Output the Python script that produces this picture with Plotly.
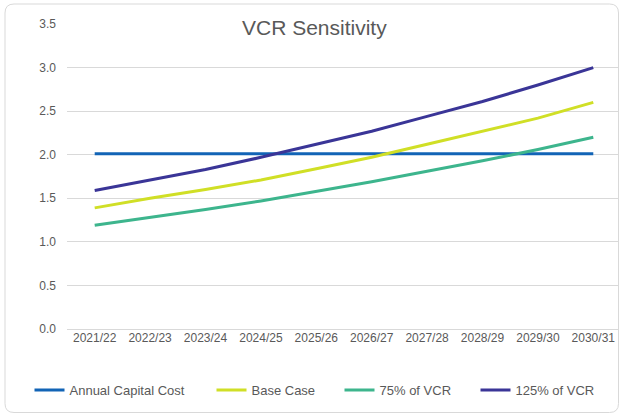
import plotly.graph_objects as go

years = ["2021/22", "2022/23", "2023/24", "2024/25", "2025/26",
         "2026/27", "2027/28", "2028/29", "2029/30", "2030/31"]
annual_capital_cost = [2.01, 2.01, 2.01, 2.01, 2.01, 2.01, 2.01, 2.01, 2.01, 2.01]
base_case = [1.39, 1.50, 1.60, 1.71, 1.84, 1.97, 2.12, 2.27, 2.42, 2.60]
vcr_75 = [1.19, 1.28, 1.37, 1.47, 1.58, 1.69, 1.81, 1.93, 2.06, 2.20]
vcr_125 = [1.59, 1.71, 1.83, 1.97, 2.12, 2.27, 2.44, 2.61, 2.80, 3.00]

series = [
    ("Annual Capital Cost", annual_capital_cost, "#1264B6"),
    ("Base Case", base_case, "#D0DF26"),
    ("75% of VCR", vcr_75, "#3DB58D"),
    ("125% of VCR", vcr_125, "#3A3597"),
]

W, H = 619, 414
L, R, T, B = 67, 0, 24, 85
PW, PH = W - L - R, H - T - B


def px(x):
    return (x - L) / PW


def py(y):
    return (H - B - y) / PH


TXT = "#595959"
FONT = "Liberation Sans, Arial, sans-serif"

fig = go.Figure()
legend_x = [37.5, 219.5, 347.5, 483.5]
for i, (name, vals, color) in enumerate(series):
    lg = "legend" if i == 0 else f"legend{i + 1}"
    fig.add_trace(go.Scatter(
        x=years, y=vals, name=name, mode="lines",
        line=dict(color=color, width=3),
        legend=lg, hoverinfo="skip",
    ))

legends = {}
for i, lx in enumerate(legend_x):
    key = "legend" if i == 0 else f"legend{i + 1}"
    legends[key] = dict(
        x=px(lx - 8), y=py(390), xanchor="left", yanchor="middle",
        orientation="h", font=dict(size=13, color=TXT, family=FONT),
        bgcolor="rgba(0,0,0,0)", borderwidth=0, itemwidth=30,
    )

# rounded chart border
x0, y0, x1, y1, r = 5, 4, 618.5, 412.5, 9
path = (
    f"M {px(x0 + r)},{py(y0)} L {px(x1 - r)},{py(y0)} "
    f"Q {px(x1)},{py(y0)} {px(x1)},{py(y0 + r)} "
    f"L {px(x1)},{py(y1 - r)} Q {px(x1)},{py(y1)} {px(x1 - r)},{py(y1)} "
    f"L {px(x0 + r)},{py(y1)} Q {px(x0)},{py(y1)} {px(x0)},{py(y1 - r)} "
    f"L {px(x0)},{py(y0 + r)} Q {px(x0)},{py(y0)} {px(x0 + r)},{py(y0)} Z"
)

fig.update_layout(
    width=W, height=H,
    margin=dict(l=L, r=R, t=T, b=B),
    paper_bgcolor="white", plot_bgcolor="white",
    font=dict(family=FONT, color=TXT, size=12),
    showlegend=True,
    shapes=[dict(type="path", path=path, xref="paper", yref="paper",
                 line=dict(color="#D9D9D9", width=1), layer="below")],
    annotations=[dict(
        text="VCR Sensitivity", x=px(314), y=py(28), xref="paper", yref="paper",
        xanchor="center", yanchor="middle", showarrow=False,
        font=dict(size=21, color=TXT, family=FONT),
        bgcolor="white", borderpad=4,
    )],
    **legends,
)
fig.update_xaxes(
    type="category", range=[-0.5, 9.464], showgrid=False, showline=False,
    ticks="", tickfont=dict(size=12, color=TXT), fixedrange=True,
)
fig.update_yaxes(
    range=[0, 3.5], dtick=0.5, tickformat=".1f", showgrid=True,
    gridcolor="#D9D9D9", gridwidth=1, zeroline=True, zerolinecolor="#D9D9D9",
    zerolinewidth=1, showline=False, ticks="", ticklabelstandoff=10,
    tickfont=dict(size=12, color=TXT), fixedrange=True,
)

# drop the browser's default 8px body margin so the chart fills the window
fig.write_html(
    "out.html",
    config={"displayModeBar": False},
    post_script="document.body.style.margin = '0';",
)
